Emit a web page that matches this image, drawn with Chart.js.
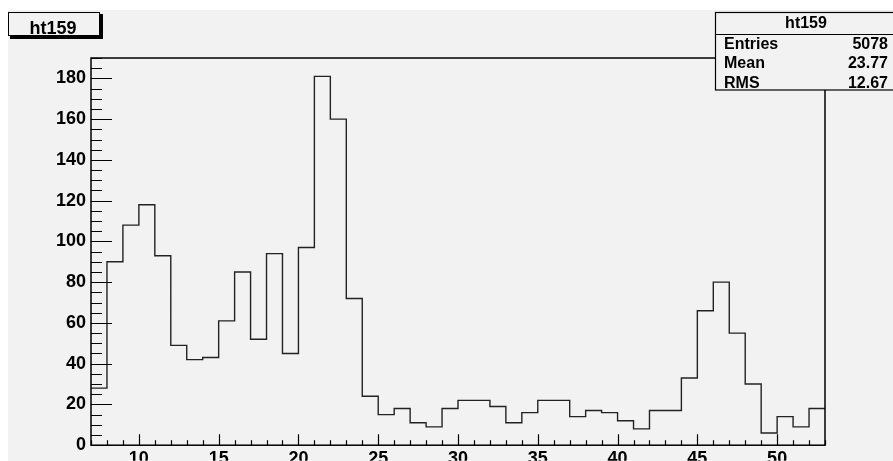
<!DOCTYPE html>
<html>
<head>
<meta charset="utf-8">
<title>ht159</title>
<script src="https://cdn.jsdelivr.net/npm/chart.js@4"></script>
<style>
  html, body { margin: 0; padding: 0; background: #ffffff; }
  #wrap { width: 893px; height: 461px; position: relative; }
</style>
</head>
<body>
<div id="wrap"><canvas id="h"></canvas></div>
<script>
// histogram ht159: 46 bins of width 1 from 7 to 53
const histName = 'ht159';
const binLow = 7;
const binWidth = 1;
const binCounts = [28, 90, 108, 118, 93, 49, 42, 43, 61, 85, 52, 94, 45, 97, 181, 160, 72, 24,
    15, 18, 11, 9, 18, 22, 22, 19, 11, 16, 22, 22, 14, 17, 16, 12, 8, 17, 17, 33, 66, 80,
    55, 30, 6, 14, 9, 18];
const statLabels = ['Entries', 'Mean', 'RMS'];
const statValues = ['5078', '23.77', '12.67'];
const yMax = 190;

const BG = '#f2f2f2';
const FONT = 'bold 18px "Liberation Sans", Arial, sans-serif';
const STAT_FONT = 'bold 16px "Liberation Sans", Arial, sans-serif';

// point at each bin's left edge (horizontal run first, then the step), plus closing right edge
const steps = binCounts.map((c, i) => ({ x: binLow + i * binWidth, y: c }));
steps.push({ x: binLow + binCounts.length * binWidth, y: binCounts[binCounts.length - 1] });

// gray pad with white margin at top/left, like the ROOT canvas
const padBackground = {
    id: 'padBackground',
    beforeDraw(chart) {
        const ctx = chart.ctx;
        ctx.save();
        ctx.fillStyle = '#ffffff';
        ctx.fillRect(0, 0, chart.width, chart.height);
        ctx.fillStyle = BG;
        ctx.fillRect(8, 10, chart.width - 8, chart.height - 10);
        ctx.restore();
    }
};

// ROOT style frame + inner ticks, title box and stats box
const rootDecor = {
    id: 'rootDecor',
    afterDatasetsDraw(chart) {
        const ctx = chart.ctx;
        const a = chart.chartArea;
        const xs = chart.scales.x, ys = chart.scales.y;
        ctx.save();
        ctx.strokeStyle = '#000';
        ctx.lineWidth = 1.5;
        ctx.strokeRect(a.left, a.top, a.right - a.left, a.bottom - a.top);

        ctx.lineWidth = 1.2;
        ctx.beginPath();
        // y ticks: major 20, minor 5
        for (let v = 0; v <= yMax; v += 5) {
            const y = Math.round(ys.getPixelForValue(v)) + 0.5;
            const len = v % 20 === 0 ? 21 : 11;
            ctx.moveTo(a.left, y);
            ctx.lineTo(a.left + len, y);
        }
        // x ticks: major 5, minor 1
        for (let v = Math.ceil(xs.min); v <= xs.max; v += 1) {
            const x = Math.round(xs.getPixelForValue(v)) + 0.5;
            const len = v % 5 === 0 ? 11 : 5;
            ctx.moveTo(x, a.bottom);
            ctx.lineTo(x, a.bottom - len);
        }
        ctx.stroke();

        // title box with shadow
        ctx.fillStyle = '#000';
        ctx.fillRect(10, 14, 93, 25);
        ctx.fillStyle = BG;
        ctx.fillRect(8, 12, 92, 24);
        ctx.lineWidth = 1;
        ctx.strokeRect(8.5, 12.5, 91, 23);
        ctx.fillStyle = '#000';
        ctx.font = FONT;
        ctx.textAlign = 'center';
        ctx.textBaseline = 'alphabetic';
        ctx.fillText(histName, 53, 34);

        // stats box
        ctx.fillStyle = BG;
        ctx.fillRect(715, 12, 180, 78);
        ctx.lineWidth = 1.2;
        ctx.strokeRect(715.5, 12.5, 180, 77.5);
        ctx.beginPath();
        ctx.moveTo(715, 34.5);
        ctx.lineTo(893, 34.5);
        ctx.stroke();
        ctx.fillStyle = '#000';
        ctx.font = STAT_FONT;
        ctx.fillText(histName, 806, 28);
        statLabels.forEach((lab, i) => {
            const base = 48.5 + i * 19.5;
            ctx.textAlign = 'left';
            ctx.fillText(lab, 724, base);
            ctx.textAlign = 'right';
            ctx.fillText(statValues[i], 888, base);
        });
        ctx.restore();
    }
};

const tickFont = { family: '"Liberation Sans", Arial, sans-serif', size: 18, weight: 'bold' };

new Chart(document.getElementById('h'), {
    type: 'line',
    data: {
        datasets: [{
            label: histName,
            data: steps,
            stepped: 'before',
            borderColor: '#222',
            borderWidth: 1.4,
            pointRadius: 0,
            fill: false
        }]
    },
    options: {
        responsive: true,
        maintainAspectRatio: false,
        animation: false,
        layout: { padding: { top: 58, right: 68, left: 0, bottom: 0 } },
        plugins: { legend: { display: false }, tooltip: { enabled: false } },
        scales: {
            x: {
                type: 'linear',
                min: binLow,
                max: binLow + binCounts.length * binWidth,
                grid: { display: false, drawTicks: false },
                border: { display: false },
                afterFit: s => { s.height = 15.5; },
                ticks: {
                    stepSize: 5,
                    padding: 3,
                    color: '#000',
                    font: tickFont,
                    callback: v => (v % 5 === 0 ? String(v) : '')
                }
            },
            y: {
                min: 0,
                max: yMax,
                grid: { display: false, drawTicks: false },
                border: { display: false },
                afterFit: s => { s.width = 91; },
                ticks: {
                    stepSize: 20,
                    padding: 5,
                    color: '#000',
                    font: tickFont,
                    callback: v => (v % 20 === 0 ? String(v) : '')
                }
            }
        }
    },
    plugins: [padBackground, rootDecor]
});
</script>
</body>
</html>
